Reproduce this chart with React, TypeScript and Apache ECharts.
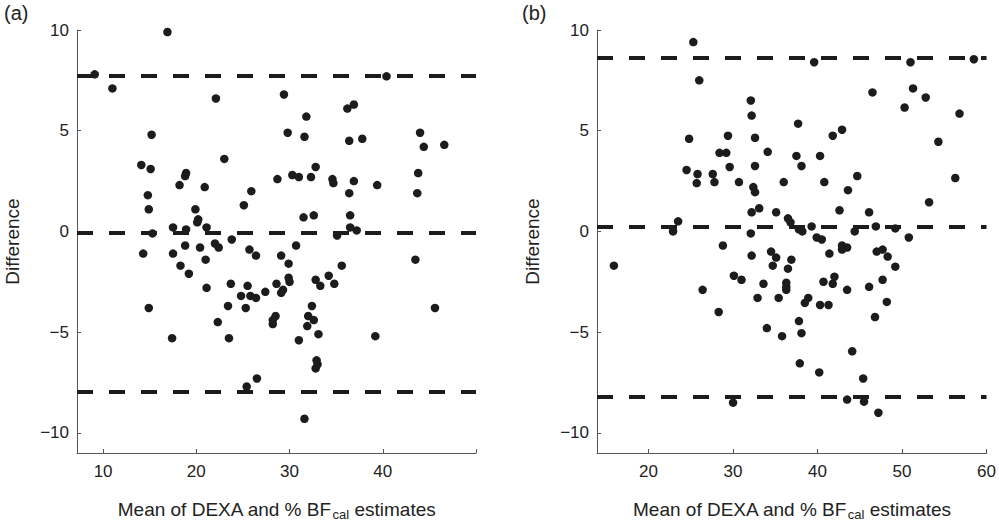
import React, { useEffect, useRef } from 'react';
import * as echarts from 'echarts';

// (a) mean vs difference
const aPoints: number[][] = [
  [9.1, 7.8], [11.0, 7.1], [16.9, 9.9], [22.1, 6.6], [15.2, 4.8], [14.1, 3.3], [15.1, 3.1], [23.0, 3.6],
  [18.9, 2.9], [18.8, 2.75], [18.2, 2.3], [20.9, 2.2], [14.8, 1.8], [14.9, 1.1], [19.9, 1.1], [20.2, 0.6],
  [20.1, 0.45], [25.1, 1.3], [25.9, 2.0], [17.5, 0.2], [18.9, 0.1], [21.1, 0.2], [15.3, -0.1], [23.8, -0.4],
  [14.3, -1.1], [17.5, -1.1], [18.8, -0.7], [20.4, -0.8], [22.0, -0.6], [22.4, -0.8], [25.7, -0.9], [18.3, -1.7],
  [19.2, -2.1], [21.0, -1.4], [21.1, -2.8], [23.7, -2.6], [25.5, -2.7], [24.8, -3.2], [23.4, -3.7], [25.3, -3.8],
  [14.9, -3.8], [22.3, -4.5], [17.4, -5.3], [23.5, -5.3], [25.4, -7.7],
  [40.4, 7.7], [29.4, 6.8], [36.2, 6.1], [36.9, 6.3], [31.8, 5.7], [29.8, 4.9], [31.6, 4.7], [44.0, 4.9],
  [36.4, 4.5], [37.8, 4.6], [44.4, 4.2], [46.6, 4.3], [32.8, 3.2], [28.7, 2.6], [30.3, 2.8], [31.0, 2.7],
  [32.3, 2.7], [34.6, 2.6], [34.7, 2.4], [36.9, 2.5], [43.8, 2.9], [39.4, 2.3], [36.4, 1.9], [43.7, 1.9],
  [31.5, 0.7], [32.6, 0.8], [36.5, 0.8], [36.5, 0.2], [37.2, 0.05],
  [35.1, -0.2], [26.4, -1.2], [30.7, -0.7], [29.1, -1.2], [29.9, -1.6], [29.9, -2.3], [30.0, -2.5], [35.6, -1.7],
  [43.5, -1.4], [28.6, -2.6], [29.3, -2.9], [29.1, -3.05], [27.4, -3.0], [25.8, -3.2], [26.4, -3.3], [32.8, -2.4],
  [33.3, -2.7], [34.2, -2.2], [34.8, -2.6], [28.5, -4.2], [28.2, -4.4], [28.2, -4.6], [32.4, -3.7], [32.0, -4.2],
  [32.6, -4.4], [31.9, -4.7], [33.1, -5.1], [31.0, -5.4], [39.2, -5.2], [45.6, -3.8], [32.9, -6.4], [33.0, -6.6],
  [32.8, -6.8], [26.5, -7.3], [31.6, -9.3],
];

// (b) mean vs difference
const bPoints: number[][] = [
  [25.3, 9.4], [26.0, 7.5], [32.1, 6.5], [32.2, 5.75], [37.7, 5.35], [24.8, 4.6], [29.4, 4.75], [32.6, 4.65],
  [28.4, 3.9], [29.2, 3.9], [34.1, 3.95], [37.5, 3.75], [24.5, 3.05], [25.8, 2.85], [27.6, 2.85], [29.6, 3.2],
  [32.6, 3.25], [38.1, 3.25], [25.7, 2.4], [27.8, 2.45], [30.7, 2.45], [36.0, 2.45], [32.4, 2.2], [32.6, 1.95],
  [32.2, 0.95], [33.1, 1.15], [35.1, 0.95], [36.5, 0.65], [36.8, 0.45], [37.8, 0.1], [23.5, 0.5], [22.9, 0.0],
  [32.1, -0.1],
  [39.6, 8.4], [51.0, 8.4], [58.5, 8.55], [46.5, 6.9], [51.3, 7.1], [52.8, 6.65], [50.3, 6.15], [56.8, 5.85],
  [42.9, 5.05], [41.8, 4.75], [54.3, 4.45], [40.3, 3.75], [44.7, 2.75], [40.8, 2.45], [43.6, 2.05], [56.3, 2.65],
  [53.2, 1.45], [42.6, 1.05], [46.1, 0.95], [39.3, 0.25], [38.2, 0.0], [44.4, 0.0], [46.9, 0.25], [49.2, 0.15],
  [39.9, -0.3], [40.5, -0.4], [50.8, -0.3],
  [15.9, -1.7], [28.8, -0.7], [32.2, -1.2], [34.5, -1.0], [35.1, -1.3], [34.7, -1.7], [36.9, -1.4], [36.5, -1.85],
  [30.1, -2.2], [31.0, -2.4], [33.6, -2.6], [36.3, -2.55], [36.3, -2.75], [36.3, -2.9], [26.4, -2.9], [32.9, -3.3],
  [35.4, -3.3], [28.3, -4.0], [37.8, -4.45], [34.0, -4.8], [35.8, -5.2], [38.1, -5.05], [37.9, -6.55], [30.0, -8.5],
  [41.4, -1.1], [42.9, -0.7], [42.9, -0.9], [43.5, -0.8], [47.0, -1.0], [47.7, -0.9], [48.3, -1.25], [49.2, -1.75],
  [42.0, -2.25], [40.7, -2.5], [41.8, -2.6], [43.5, -2.9], [46.1, -2.75], [47.7, -2.4], [38.9, -3.3], [38.5, -3.55],
  [40.3, -3.65], [41.3, -3.65], [48.2, -3.5], [46.8, -4.25], [44.1, -5.95], [40.2, -7.0], [45.4, -7.3], [43.5, -8.35],
  [45.5, -8.45], [47.2, -9.0],
];

// mean bias and limits of agreement (dashed lines)
const aLimits = [7.72, -0.09, -7.95];
const bLimits = [8.64, 0.21, -8.2];

const yTicks = [-10, -5, 0, 5, 10];
const aXTicks = [10, 20, 30, 40, 50];
const aXLabels = [10, 20, 30, 40];
const bXTicks = [20, 30, 40, 50, 60];

const FONT = '"Liberation Sans", Arial, Helvetica, sans-serif';
const INK = '#1c1c1c';
const TEXT = '#222';
const AXIS = '#555';

const xName = 'Mean of DEXA and % BF{sub|cal} estimates';

const App: React.FC = () => {
  const chartRef = useRef<HTMLDivElement>(null);

  useEffect(() => {
    document.body.style.margin = '0';
    if (!chartRef.current) return;
    const chart = echarts.init(chartRef.current, undefined, { renderer: 'svg' });

    const xAxisBase = (min: number, max: number, ticks: number[], labels: number[]) => ({
      type: 'value',
      min,
      max,
      name: xName,
      nameLocation: 'middle',
      nameGap: 45,
      nameTextStyle: {
        fontSize: 19,
        color: TEXT,
        fontFamily: FONT,
        rich: {
          sub: { fontSize: 13, color: TEXT, fontFamily: FONT, padding: [10, 0, 0, 1] },
        },
      },
      axisLine: { show: true, onZero: false, lineStyle: { color: AXIS, width: 1 } },
      axisTick: { show: true, inside: true, length: 4, customValues: ticks, lineStyle: { color: AXIS } },
      axisLabel: { fontSize: 17, color: TEXT, fontFamily: FONT, margin: 10, customValues: labels },
      splitLine: { show: false },
    });

    const yAxisBase = () => ({
      type: 'value',
      min: -11,
      max: 10,
      name: 'Difference',
      nameLocation: 'middle',
      nameGap: 55,
      nameTextStyle: { fontSize: 19, color: TEXT, fontFamily: FONT },
      axisLine: { show: true, onZero: false, lineStyle: { color: AXIS, width: 1 } },
      axisTick: { show: true, inside: true, length: 4, customValues: yTicks, lineStyle: { color: AXIS } },
      axisLabel: {
        fontSize: 17,
        color: TEXT,
        fontFamily: FONT,
        margin: 8,
        customValues: yTicks,
        formatter: (v: number) => String(v).replace('-', '\u2212'),
      },
      splitLine: { show: false },
    });

    const limitLines = (vals: number[]) => ({
      silent: true,
      symbol: 'none',
      label: { show: false },
      lineStyle: { color: INK, width: 4, type: [16, 16] },
      data: vals.map((v) => ({ yAxis: v })),
    });

    const option: any = {
      animation: false,
      grid: [
        { left: 77, right: 523, top: 30, bottom: 75 },
        { left: 597, right: 11, top: 30, bottom: 75 },
      ],
      xAxis: [
        { ...xAxisBase(7.2, 50, aXTicks, aXLabels), gridIndex: 0 },
        { ...xAxisBase(13.9, 60, bXTicks, bXTicks), gridIndex: 1 },
      ],
      yAxis: [
        { ...yAxisBase(), gridIndex: 0 },
        { ...yAxisBase(), gridIndex: 1 },
      ],
      graphic: [
        { type: 'text', left: 4, top: 3, style: { text: '(a)', fontSize: 20, fill: TEXT, fontFamily: FONT } },
        { type: 'text', left: 522, top: 3, style: { text: '(b)', fontSize: 20, fill: TEXT, fontFamily: FONT } },
      ],
      series: [
        {
          type: 'scatter',
          xAxisIndex: 0,
          yAxisIndex: 0,
          symbolSize: 8.5,
          itemStyle: { color: INK, opacity: 1 },
          data: aPoints,
          markLine: limitLines(aLimits),
        },
        {
          type: 'scatter',
          xAxisIndex: 1,
          yAxisIndex: 1,
          symbolSize: 8.5,
          itemStyle: { color: INK, opacity: 1 },
          data: bPoints,
          markLine: limitLines(bLimits),
        },
      ],
    };

    chart.setOption(option);

    return () => {
      chart.dispose();
    };
  }, []);

  return <div ref={chartRef} style={{ width: 999, height: 528, background: '#fff' }} />;
};

export default App;
